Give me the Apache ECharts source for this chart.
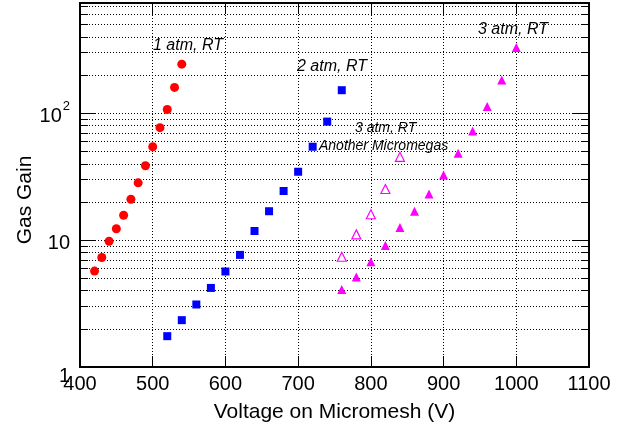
<!DOCTYPE html>
<html>
<head>
<meta charset="utf-8">
<script src="https://cdn.jsdelivr.net/npm/echarts@6/dist/echarts.min.js"></script>
<style>
  html, body { margin: 0; padding: 0; background: #fff; }
  #chart { width: 630px; height: 428px; }
</style>
</head>
<body>
<div id="chart"></div>
<script>
// Gas gain versus mesh voltage for several pressures
const volt1atm = [420, 430, 440, 450, 460, 470, 480, 490, 500, 510, 520, 530, 540];
const gain1atm = [5.7, 7.3, 9.8, 12.3, 15.7, 21, 28.3, 38.6, 54.5, 77, 107, 160, 244];

const volt2atm = [520, 540, 560, 580, 600, 620, 640, 660, 680, 700, 720, 740, 760];
const gain2atm = [1.75, 2.34, 3.11, 4.2, 5.66, 7.65, 11.8, 16.9, 24.4, 34.6, 54.5, 86, 152];

const volt3atm = [760, 780, 800, 820, 840, 860, 880, 900, 920, 940, 960, 980, 1000];
const gain3atm = [4.08, 5.13, 6.74, 9.08, 12.6, 16.9, 23.1, 32.6, 48.3, 72.5, 113, 183, 330];

// second detector, 3 atm (open markers)
const volt3atmB = [760, 780, 800, 820, 840];
const gain3atmB = [7.4, 11.1, 16, 25.3, 45.4];

const xTicks = [400, 500, 600, 700, 800, 900, 1000, 1100];
const yMinorLines = [2, 3, 4, 5, 6, 7, 8, 9, 20, 30, 40, 50, 60, 70, 80, 90, 200, 300, 400, 500, 600, 700];
const yMajorLines = [10, 100];

const FONT = 'Liberation Sans, Arial, Helvetica, sans-serif';
const X_MIN = 400, X_MAX = 1100, Y_MIN = 1, Y_MAX = 740;
const MINOR_TICK = 11;   // minor tick length in voltage units

function zip(xs, ys) { return xs.map((x, i) => [x, ys[i]]); }

// dotted horizontal grid lines and short minor ticks on both vertical edges
const helperLines = [];
yMinorLines.forEach(v => {
  helperLines.push({ yAxis: v, lineStyle: { type: [1, 2], color: '#000', width: 1 } });
  helperLines.push([{ coord: [X_MIN, v] }, { coord: [X_MIN + MINOR_TICK, v], lineStyle: { type: 'solid', color: '#000', width: 1 } }]);
  helperLines.push([{ coord: [X_MAX - MINOR_TICK, v] }, { coord: [X_MAX, v], lineStyle: { type: 'solid', color: '#000', width: 1 } }]);
});
yMajorLines.forEach(v => {
  helperLines.push({ yAxis: v, lineStyle: { type: [1, 2], color: '#000', width: 1 } });
});

const chart = echarts.init(document.getElementById('chart'), null, { renderer: 'canvas' });

const option = {
  animation: false,
  backgroundColor: '#fff',
  grid: {
    left: 80, right: 41, top: 3, bottom: 61,
    show: true, borderColor: '#000', borderWidth: 2, backgroundColor: 'transparent'
  },
  xAxis: [
    {
      type: 'value', min: X_MIN, max: X_MAX, interval: 100, position: 'bottom',
      name: 'Voltage on Micromesh (V)', nameLocation: 'middle', nameGap: 35,
      nameTextStyle: { fontFamily: FONT, fontSize: 21, color: '#000' },
      axisLine: { show: true, lineStyle: { color: '#000', width: 2 } },
      axisTick: { show: true, inside: true, length: 11, lineStyle: { color: '#000', width: 1 } },
      axisLabel: {
        fontFamily: FONT, fontSize: 20, color: '#000', margin: 7,
        formatter: v => (xTicks.indexOf(v) >= 0 ? String(v) : '')
      },
      splitLine: { show: true, lineStyle: { type: [1, 2], color: '#000', width: 1 } }
    },
    {
      type: 'value', min: X_MIN, max: X_MAX, interval: 100, position: 'top',
      axisLine: { show: true, lineStyle: { color: '#000', width: 2 } },
      axisTick: { show: true, inside: true, length: 11, lineStyle: { color: '#000', width: 1 } },
      axisLabel: { show: false },
      splitLine: { show: false }
    }
  ],
  yAxis: [
    {
      type: 'log', logBase: 10, min: Y_MIN, max: Y_MAX, position: 'left',
      axisLine: { show: true, lineStyle: { color: '#000', width: 2 } },
      axisTick: { show: true, inside: true, length: 16, lineStyle: { color: '#000', width: 1 } },
      splitLine: { show: false },
      axisLabel: {
        margin: 10, color: '#000', fontFamily: FONT,
        formatter: v => {
          const r = Math.round(v);
          if (r === 1) return '{one|1}';
          if (r === 10) return '{b|10}';
          if (r === 100) return '{b|10}{sup|2}';
          return '';
        },
        rich: {
          one: { fontFamily: FONT, fontSize: 20, color: '#000', padding: [18, 0, 0, 0] },
          b: { fontFamily: FONT, fontSize: 20, color: '#000', padding: [6, 0, 0, 0] },
          sup: { fontFamily: FONT, fontSize: 13, color: '#000', verticalAlign: 'top', padding: [0, 0, 0, 1] }
        }
      }
    },
    {
      type: 'log', logBase: 10, min: Y_MIN, max: Y_MAX, position: 'right',
      axisLine: { show: true, lineStyle: { color: '#000', width: 2 } },
      axisTick: { show: true, inside: true, length: 16, lineStyle: { color: '#000', width: 1 } },
      axisLabel: { show: false },
      splitLine: { show: false }
    }
  ],
  series: [
    {
      name: 'grid', type: 'line', data: [], silent: true, z: 1,
      markLine: { silent: true, symbol: ['none', 'none'], label: { show: false }, animation: false, data: helperLines }
    },
    {
      name: '1 atm, RT', type: 'scatter', symbol: 'circle', symbolSize: 9, z: 5,
      itemStyle: { color: '#ff0000', opacity: 1 }, data: zip(volt1atm, gain1atm)
    },
    {
      name: '2 atm, RT', type: 'scatter', symbol: 'rect', symbolSize: 8, z: 5,
      itemStyle: { color: '#0000ff', opacity: 1 }, data: zip(volt2atm, gain2atm)
    },
    {
      name: '3 atm, RT', type: 'scatter', symbol: 'triangle', symbolSize: 9, z: 5,
      itemStyle: { color: '#ff00ff', opacity: 1 }, data: zip(volt3atm, gain3atm)
    },
    {
      name: '3 atm, RT (Another Micromegas)', type: 'scatter', symbol: 'triangle', symbolSize: 9, z: 5,
      itemStyle: { color: '#ffffff', borderColor: '#ff00ff', borderWidth: 1.2, opacity: 1 }, data: zip(volt3atmB, gain3atmB)
    }
  ],
  graphic: [
    {
      type: 'text', x: 25, y: 200, rotation: Math.PI / 2,
      style: { text: 'Gas Gain', fontFamily: FONT, fontSize: 21, fill: '#000', align: 'center', verticalAlign: 'middle' }
    },
    { type: 'text', x: 153, y: 46, style: { text: '1 atm, RT', fontFamily: FONT, fontStyle: 'italic', fontSize: 16, fill: '#000', align: 'left', verticalAlign: 'middle' } },
    { type: 'text', x: 297, y: 67, style: { text: '2 atm, RT', fontFamily: FONT, fontStyle: 'italic', fontSize: 16, fill: '#000', align: 'left', verticalAlign: 'middle' } },
    { type: 'text', x: 478, y: 30, style: { text: '3 atm, RT', fontFamily: FONT, fontStyle: 'italic', fontSize: 16, fill: '#000', align: 'left', verticalAlign: 'middle' } },
    { type: 'text', x: 355, y: 128, style: { text: '3 atm, RT', fontFamily: FONT, fontStyle: 'italic', fontSize: 14, fill: '#000', align: 'left', verticalAlign: 'middle' } },
    { type: 'text', x: 319, y: 146, style: { text: 'Another Micromegas', fontFamily: FONT, fontStyle: 'italic', fontSize: 14, fill: '#000', align: 'left', verticalAlign: 'middle' } }
  ]
};

chart.setOption(option);
</script>
</body>
</html>
